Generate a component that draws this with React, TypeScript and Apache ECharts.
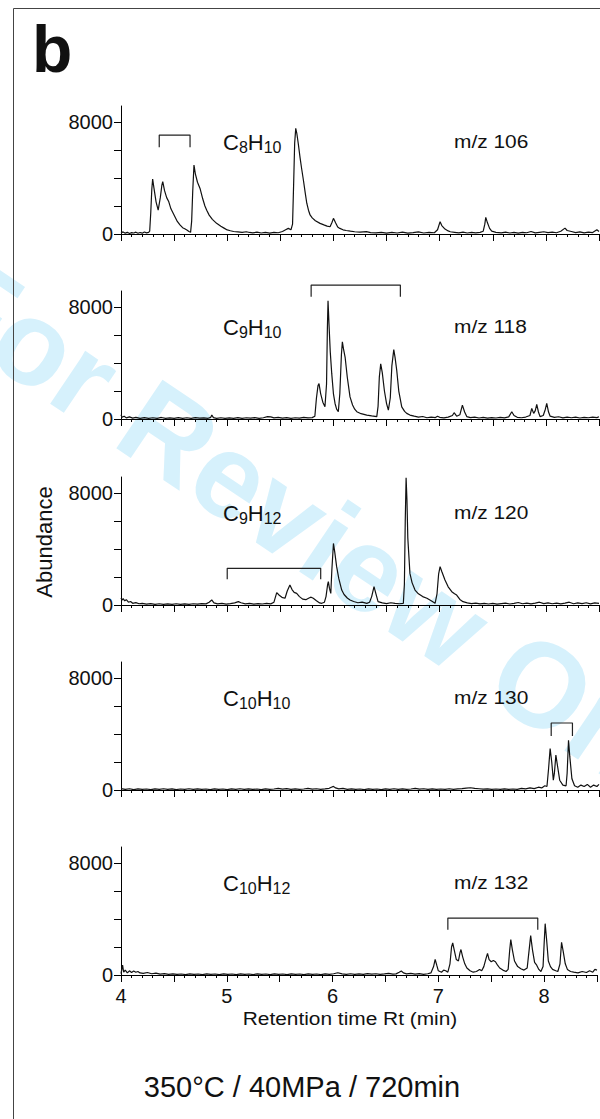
import React, { useEffect, useRef } from "react";
import * as echarts from "echarts";

const FONT = "'Liberation Sans', Arial, Helvetica, sans-serif";

// Retention time axis (min)
const xTickLabels = [4, 5, 6, 7, 8];
// Abundance axis
const yTicks = [0, 2000, 4000, 6000, 8000];
const yTickLabels = [0, 8000];

// Panel titles
const formulas = [
  ["C", "8", "H", "10"],
  ["C", "9", "H", "10"],
  ["C", "9", "H", "12"],
  ["C", "10", "H", "10"],
  ["C", "10", "H", "12"],
];
const mzLabels = ["m/z 106", "m/z 118", "m/z 120", "m/z 130", "m/z 132"];

// Chromatogram traces: [retention time (min), abundance]
const mz106 = [
  [4.0, 80], [4.02, 150], [4.04, 60], [4.06, 120], [4.08, 40], [4.1, 100], [4.12, 70], [4.14, 130], [4.16, 50],
  [4.18, 110], [4.2, 60], [4.22, 140], [4.24, 80], [4.26, 120], [4.27, 200], [4.28, 1500], [4.29, 3200],
  [4.298, 3930], [4.31, 3300], [4.33, 2300], [4.35, 1700], [4.37, 2600], [4.385, 3500], [4.393, 3740],
  [4.41, 3100], [4.43, 2600], [4.45, 2300], [4.47, 1800], [4.49, 1500], [4.51, 1200], [4.53, 900],
  [4.555, 650], [4.58, 450], [4.6, 380], [4.62, 290], [4.64, 180], [4.655, 120], [4.665, 900], [4.675, 3000],
  [4.687, 4930], [4.7, 4300], [4.72, 3700], [4.744, 3260], [4.77, 2500], [4.79, 2000], [4.807, 1700],
  [4.83, 1350], [4.86, 1050], [4.9, 760], [4.94, 550], [4.97, 420], [5.0, 290], [5.03, 230], [5.06, 180],
  [5.1, 150], [5.14, 120], [5.18, 160], [5.21, 110], [5.24, 80], [5.28, 130], [5.32, 70], [5.36, 110],
  [5.4, 60], [5.44, 120], [5.48, 90], [5.52, 180], [5.55, 300], [5.575, 400], [5.6, 300], [5.615, 700],
  [5.625, 3500], [5.635, 6500], [5.645, 7550], [5.655, 7200], [5.67, 6400], [5.685, 5500], [5.7, 4700],
  [5.717, 3860], [5.735, 2900], [5.749, 2200], [5.765, 1700], [5.78, 1360], [5.8, 1150], [5.83, 950],
  [5.874, 760], [5.91, 650], [5.94, 560], [5.968, 520], [5.985, 800], [6.0, 1120], [6.02, 800], [6.04, 500],
  [6.06, 400], [6.09, 300], [6.12, 250], [6.16, 200], [6.2, 160], [6.25, 130], [6.31, 170], [6.35, 100],
  [6.4, 80], [6.45, 120], [6.5, 60], [6.55, 110], [6.6, 70], [6.65, 130], [6.7, 60], [6.75, 100], [6.8, 150],
  [6.85, 70], [6.9, 120], [6.95, 90], [6.98, 300], [7.004, 880], [7.02, 600], [7.05, 350], [7.08, 220],
  [7.1, 160], [7.14, 120], [7.18, 80], [7.22, 130], [7.26, 70], [7.3, 110], [7.34, 80], [7.38, 120],
  [7.41, 200], [7.425, 700], [7.434, 1190], [7.45, 800], [7.47, 400], [7.49, 200], [7.53, 120], [7.58, 80],
  [7.62, 130], [7.66, 70], [7.7, 110], [7.74, 60], [7.78, 120], [7.82, 90], [7.86, 180], [7.9, 80],
  [7.94, 120], [7.98, 160], [8.02, 100], [8.06, 140], [8.1, 90], [8.14, 200], [8.18, 420], [8.2, 250],
  [8.24, 180], [8.28, 100], [8.32, 150], [8.36, 80], [8.4, 130], [8.44, 100], [8.48, 300], [8.5, 180],
];

const mz118 = [
  [4.0, 300], [4.01, 120], [4.03, 200], [4.05, 80], [4.08, 150], [4.11, 60], [4.14, 120], [4.18, 50],
  [4.22, 100], [4.26, 40], [4.3, 90], [4.34, 50], [4.38, 110], [4.42, 40], [4.46, 80], [4.5, 50], [4.54, 100],
  [4.58, 40], [4.62, 90], [4.66, 50], [4.7, 100], [4.74, 60], [4.78, 80], [4.82, 50], [4.845, 120],
  [4.855, 290], [4.87, 100], [4.9, 50], [4.94, 90], [4.98, 40], [5.02, 80], [5.06, 50], [5.1, 100],
  [5.14, 40], [5.18, 90], [5.22, 60], [5.26, 100], [5.3, 50], [5.34, 90], [5.38, 170], [5.41, 150],
  [5.44, 80], [5.48, 110], [5.52, 60], [5.56, 100], [5.6, 50], [5.64, 90], [5.68, 60], [5.72, 120],
  [5.76, 80], [5.8, 100], [5.825, 200], [5.84, 1500], [5.855, 2400], [5.864, 2530], [5.88, 1800],
  [5.9, 1200], [5.92, 870], [5.935, 2500], [5.943, 6500], [5.949, 8450], [5.958, 6800], [5.97, 4800],
  [5.984, 3240], [6.0, 1800], [6.015, 1110], [6.03, 700], [6.046, 520], [6.06, 1800], [6.075, 4600],
  [6.084, 5520], [6.095, 5000], [6.11, 4410], [6.13, 3000], [6.156, 1580], [6.18, 1000], [6.2, 700],
  [6.22, 520], [6.26, 380], [6.314, 283], [6.36, 220], [6.408, 170], [6.42, 900], [6.432, 3000],
  [6.445, 3940], [6.46, 3300], [6.48, 2000], [6.5, 1100], [6.517, 640], [6.535, 1500], [6.55, 3800],
  [6.568, 4960], [6.58, 4400], [6.596, 3470], [6.615, 2000], [6.643, 870], [6.67, 550], [6.69, 400],
  [6.72, 280], [6.76, 200], [6.8, 130], [6.84, 180], [6.88, 90], [6.92, 140], [6.96, 100], [6.98, 200],
  [7.0, 120], [7.04, 80], [7.08, 130], [7.12, 250], [7.136, 450], [7.16, 200], [7.19, 300], [7.214, 990],
  [7.235, 500], [7.255, 170], [7.29, 100], [7.33, 130], [7.37, 70], [7.41, 110], [7.45, 60], [7.49, 100],
  [7.53, 70], [7.57, 120], [7.61, 80], [7.65, 150], [7.679, 520], [7.7, 250], [7.73, 120], [7.77, 90],
  [7.81, 140], [7.85, 250], [7.867, 755], [7.885, 400], [7.9, 600], [7.914, 1040], [7.93, 500],
  [7.945, 170], [7.975, 250], [7.995, 700], [8.008, 1110], [8.025, 500], [8.04, 200], [8.08, 120],
  [8.12, 160], [8.16, 80], [8.2, 130], [8.24, 90], [8.28, 140], [8.32, 70], [8.36, 120], [8.4, 90],
  [8.44, 140], [8.48, 100], [8.5, 160],
];

const mz120 = [
  [4.0, 500], [4.01, 350], [4.02, 450], [4.035, 300], [4.05, 380], [4.07, 200], [4.09, 250], [4.11, 120],
  [4.14, 170], [4.17, 90], [4.2, 120], [4.24, 60], [4.28, 100], [4.32, 50], [4.36, 90], [4.4, 40],
  [4.44, 80], [4.48, 50], [4.52, 90], [4.56, 40], [4.6, 80], [4.64, 50], [4.68, 90], [4.72, 60], [4.76, 100],
  [4.8, 80], [4.83, 200], [4.854, 360], [4.875, 150], [4.91, 80], [4.95, 110], [4.99, 60], [5.03, 100],
  [5.07, 150], [5.105, 240], [5.13, 160], [5.17, 80], [5.21, 110], [5.25, 60], [5.29, 100], [5.33, 70],
  [5.37, 110], [5.41, 80], [5.44, 200], [5.466, 880], [5.49, 700], [5.515, 550], [5.544, 480], [5.565, 1000],
  [5.59, 1430], [5.61, 1100], [5.63, 900], [5.654, 830], [5.68, 600], [5.71, 420], [5.74, 380], [5.77, 500],
  [5.79, 560], [5.81, 480], [5.84, 300], [5.87, 150], [5.89, 120], [5.915, 200], [5.93, 600], [5.945, 1450],
  [5.952, 1670], [5.962, 1200], [5.975, 830], [5.985, 2500], [6.0, 4400], [6.012, 3800], [6.03, 2740],
  [6.05, 1900], [6.078, 1070], [6.1, 750], [6.13, 500], [6.156, 360], [6.19, 250], [6.23, 160], [6.27, 200],
  [6.314, 120], [6.34, 200], [6.36, 600], [6.382, 1310], [6.4, 800], [6.42, 240], [6.46, 150], [6.5, 100],
  [6.54, 160], [6.58, 110], [6.62, 90], [6.658, 120], [6.668, 1500], [6.676, 6000], [6.684, 9100],
  [6.692, 7500], [6.7, 4800], [6.72, 2260], [6.74, 1600], [6.768, 1070], [6.8, 800], [6.84, 600],
  [6.88, 480], [6.92, 300], [6.957, 120], [6.975, 800], [6.99, 2200], [7.004, 2740], [7.02, 2400],
  [7.05, 1790], [7.08, 1300], [7.114, 950], [7.14, 800], [7.16, 710], [7.19, 400], [7.22, 240], [7.26, 150],
  [7.3, 100], [7.34, 140], [7.38, 80], [7.42, 120], [7.46, 70], [7.5, 110], [7.54, 60], [7.58, 100],
  [7.62, 130], [7.66, 70], [7.7, 120], [7.74, 180], [7.78, 90], [7.82, 140], [7.86, 80], [7.9, 130],
  [7.94, 200], [7.98, 100], [8.02, 150], [8.06, 90], [8.1, 140], [8.14, 80], [8.18, 130], [8.22, 200],
  [8.26, 90], [8.3, 150], [8.34, 100], [8.38, 160], [8.42, 80], [8.46, 150], [8.5, 120],
];

const mz130 = [
  [4.0, 100], [4.04, 40], [4.08, 90], [4.12, 30], [4.16, 80], [4.2, 40], [4.24, 70], [4.28, 30], [4.32, 80],
  [4.36, 40], [4.4, 90], [4.44, 50], [4.48, 80], [4.52, 30], [4.56, 70], [4.6, 40], [4.64, 90], [4.68, 50],
  [4.72, 80], [4.76, 40], [4.8, 70], [4.84, 30], [4.88, 80], [4.92, 40], [4.96, 70], [5.0, 30], [5.04, 80],
  [5.08, 40], [5.12, 90], [5.16, 50], [5.2, 80], [5.24, 40], [5.28, 70], [5.32, 30], [5.36, 80], [5.4, 40],
  [5.44, 70], [5.48, 120], [5.52, 60], [5.56, 100], [5.6, 50], [5.64, 80], [5.68, 40], [5.72, 70],
  [5.76, 110], [5.8, 60], [5.84, 90], [5.88, 50], [5.92, 80], [5.96, 120], [5.98, 200], [6.0, 260],
  [6.02, 150], [6.05, 80], [6.09, 110], [6.13, 50], [6.17, 80], [6.21, 40], [6.25, 70], [6.29, 30],
  [6.33, 80], [6.37, 40], [6.41, 70], [6.45, 30], [6.49, 80], [6.53, 40], [6.57, 90], [6.61, 50], [6.65, 80],
  [6.69, 40], [6.73, 70], [6.77, 120], [6.81, 60], [6.85, 90], [6.89, 50], [6.93, 80], [6.97, 40], [7.01, 70],
  [7.05, 40], [7.09, 90], [7.13, 50], [7.17, 80], [7.21, 100], [7.25, 130], [7.29, 160], [7.33, 110],
  [7.37, 90], [7.41, 60], [7.45, 80], [7.49, 40], [7.53, 70], [7.57, 50], [7.61, 80], [7.65, 40], [7.69, 70],
  [7.73, 50], [7.77, 120], [7.81, 80], [7.85, 150], [7.89, 100], [7.93, 200], [7.96, 150], [7.99, 300],
  [8.01, 250], [8.025, 1500], [8.04, 2960], [8.055, 2000], [8.07, 700], [8.08, 1200], [8.094, 2490],
  [8.11, 1700], [8.13, 700], [8.16, 350], [8.19, 300], [8.2, 1200], [8.213, 3550], [8.225, 2400],
  [8.245, 800], [8.27, 300], [8.3, 200], [8.33, 350], [8.36, 250], [8.39, 400], [8.42, 200], [8.45, 350],
  [8.48, 250], [8.5, 400],
];

const mz132 = [
  [4.0, 100], [4.015, 700], [4.025, 200], [4.04, 350], [4.06, 150], [4.08, 300], [4.1, 180], [4.12, 280],
  [4.14, 200], [4.16, 250], [4.18, 150], [4.21, 120], [4.25, 180], [4.29, 90], [4.33, 130], [4.37, 60],
  [4.41, 100], [4.45, 50], [4.49, 80], [4.53, 40], [4.57, 70], [4.61, 30], [4.65, 80], [4.69, 40],
  [4.73, 70], [4.77, 30], [4.81, 80], [4.85, 40], [4.89, 70], [4.93, 30], [4.97, 80], [5.01, 40], [5.05, 70],
  [5.09, 30], [5.13, 80], [5.17, 40], [5.21, 70], [5.25, 30], [5.29, 80], [5.33, 40], [5.37, 70], [5.41, 30],
  [5.45, 80], [5.49, 40], [5.53, 70], [5.57, 30], [5.61, 80], [5.65, 40], [5.69, 70], [5.73, 30], [5.77, 80],
  [5.81, 40], [5.85, 70], [5.89, 30], [5.93, 80], [5.97, 40], [6.01, 90], [6.05, 160], [6.09, 80], [6.13, 50],
  [6.17, 90], [6.21, 40], [6.25, 80], [6.29, 50], [6.33, 100], [6.37, 60], [6.41, 90], [6.45, 50], [6.49, 80],
  [6.53, 120], [6.57, 60], [6.6, 80], [6.63, 200], [6.65, 290], [6.67, 150], [6.7, 80], [6.74, 110],
  [6.78, 60], [6.82, 100], [6.86, 50], [6.9, 90], [6.93, 150], [6.955, 600], [6.97, 1110], [6.985, 700],
  [7.0, 300], [7.03, 200], [7.05, 350], [7.07, 300], [7.09, 200], [7.11, 800], [7.125, 2000], [7.136, 2300],
  [7.15, 1800], [7.17, 1100], [7.19, 1000], [7.205, 1600], [7.214, 1820], [7.23, 1300], [7.25, 800],
  [7.27, 500], [7.3, 300], [7.33, 200], [7.36, 250], [7.39, 400], [7.41, 300], [7.43, 600], [7.455, 1300],
  [7.465, 1540], [7.48, 1100], [7.5, 950], [7.52, 1040], [7.54, 950], [7.56, 700], [7.58, 500], [7.61, 350],
  [7.64, 250], [7.66, 400], [7.675, 1800], [7.685, 2530], [7.7, 1800], [7.72, 1000], [7.75, 600],
  [7.78, 450], [7.81, 350], [7.84, 500], [7.86, 1900], [7.873, 2820], [7.89, 1800], [7.91, 900], [7.93, 700],
  [7.95, 400], [7.97, 250], [7.99, 600], [8.0, 2200], [8.01, 3670], [8.025, 2400], [8.04, 1000], [8.06, 600],
  [8.08, 400], [8.11, 300], [8.13, 250], [8.15, 800], [8.165, 2340], [8.18, 1700], [8.2, 800], [8.22, 400],
  [8.25, 250], [8.28, 200], [8.32, 150], [8.36, 250], [8.4, 180], [8.43, 300], [8.46, 200], [8.48, 400],
  [8.5, 350],
];

// Brackets marking peak groups: [time, abundance]
const bracket106 = [[4.36, 6210], [4.36, 7070], [4.65, 7070], [4.65, 6210]];
const bracket118 = [[5.79, 8740], [5.79, 9570], [6.63, 9570], [6.63, 8740]];
const bracket120 = [[5.0, 1840], [5.0, 2620], [5.88, 2620], [5.88, 1840]];
const bracket130 = [[8.05, 3860], [8.05, 4790], [8.25, 4790], [8.25, 3860]];
const bracket132 = [[7.09, 3240], [7.09, 4070], [7.94, 4070], [7.94, 3240]];

const traces = [mz106, mz118, mz120, mz130, mz132];
const brackets = [bracket106, bracket118, bracket120, bracket130, bracket132];

const X_MIN = 4;
const X_MAX = 8.5;
const Y_MAX = 9150;

const PANEL_TOPS = [106, 291, 477, 662, 847];
const PANEL_H = 128;
const GRID_LEFT = 121;
const GRID_RIGHT = 1;

const MAIN_FS = 22;
const SUB_FS = 16;

function measure(text: string, fontSize: number): number {
  const c = document.createElement("canvas");
  const ctx = c.getContext("2d");
  if (!ctx) return text.length * fontSize * 0.56;
  ctx.font = `${fontSize}px ${FONT}`;
  return ctx.measureText(text).width;
}

export default function App() {
  const ref = useRef<HTMLDivElement>(null);

  useEffect(() => {
    if (!ref.current) return;
    const chart = echarts.init(ref.current, undefined, { renderer: "svg" });
    const n = traces.length;

    const grid = PANEL_TOPS.map((t) => ({
      left: GRID_LEFT,
      right: GRID_RIGHT,
      top: t,
      height: PANEL_H,
      containLabel: false,
    }));

    const xAxis = PANEL_TOPS.map((_, i) => ({
      type: "value",
      gridIndex: i,
      min: X_MIN,
      max: X_MAX,
      interval: 0.5,
      axisLine: { show: true, onZero: false, lineStyle: { color: "#000", width: 1 } },
      axisTick: { show: true, length: 7, inside: false, lineStyle: { color: "#000", width: 1 } },
      minorTick: { show: true, splitNumber: 5, length: 3, lineStyle: { color: "#000", width: 1 } },
      splitLine: { show: false },
      minorSplitLine: { show: false },
      axisLabel: {
        show: i === n - 1,
        margin: 11,
        fontSize: 20,
        fontFamily: FONT,
        color: "#111",
        formatter: (v: number) => (xTickLabels.includes(v) ? String(v) : ""),
      },
    }));

    const yAxis = PANEL_TOPS.map((_, i) => ({
      type: "value",
      gridIndex: i,
      min: 0,
      max: Y_MAX,
      axisLine: { show: true, onZero: false, lineStyle: { color: "#000", width: 1 } },
      axisTick: {
        show: true,
        length: 7,
        inside: false,
        customValues: yTicks,
        lineStyle: { color: "#000", width: 1 },
      },
      splitLine: { show: false },
      axisLabel: {
        show: true,
        customValues: yTickLabels,
        margin: 8,
        fontSize: 20,
        fontFamily: FONT,
        color: "#111",
        formatter: (v: number) => String(Math.round(v)),
      },
    }));

    const series: any[] = [];
    traces.forEach((d, i) => {
      series.push({
        type: "line",
        xAxisIndex: i,
        yAxisIndex: i,
        data: d,
        showSymbol: false,
        symbol: "none",
        lineStyle: { color: "#111", width: 1.2 },
        z: 3,
      });
    });
    brackets.forEach((d, i) => {
      series.push({
        type: "line",
        xAxisIndex: i,
        yAxisIndex: i,
        data: d,
        showSymbol: false,
        symbol: "none",
        clip: false,
        lineStyle: { color: "#222", width: 1.2 },
        z: 3,
      });
    });

    const graphics: any[] = [
      {
        type: "text",
        x: 335,
        y: 545,
        rotation: -0.593,
        z: 0,
        silent: true,
        style: {
          text: "For Review Only",
          fontSize: 120,
          fontWeight: "bold",
          fontFamily: FONT,
          fill: "#d6f1fc",
          align: "center",
          verticalAlign: "middle",
        },
      },
      {
        type: "rect",
        z: 1,
        shape: { x: 13.5, y: 8.5, width: 700, height: 1200 },
        style: { fill: "none", stroke: "#444", lineWidth: 1 },
      },
      {
        type: "text",
        x: 32,
        y: 49,
        z: 5,
        style: {
          text: "b",
          fontSize: 66,
          fontWeight: "bold",
          fontFamily: FONT,
          fill: "#111",
          align: "left",
          verticalAlign: "middle",
        },
      },
      {
        type: "text",
        x: 44,
        y: 542,
        rotation: Math.PI / 2,
        z: 5,
        style: {
          text: "Abundance",
          fontSize: 22,
          fontFamily: FONT,
          fill: "#111",
          align: "center",
          verticalAlign: "middle",
        },
      },
      {
        type: "text",
        x: 350,
        y: 1019,
        scaleX: 1.16,
        z: 5,
        style: {
          text: "Retention time Rt (min)",
          fontSize: 18,
          fontFamily: FONT,
          fill: "#111",
          align: "center",
          verticalAlign: "middle",
        },
      },
      {
        type: "text",
        x: 302,
        y: 1087,
        z: 5,
        style: {
          text: "350°C / 40MPa / 720min",
          fontSize: 29,
          fontFamily: FONT,
          fill: "#111",
          align: "center",
          verticalAlign: "middle",
        },
      },
    ];

    PANEL_TOPS.forEach((t, i) => {
      const f = formulas[i];
      const yMain = t + 36.5;
      const ySub = yMain + 4.5;
      let x = 223;
      f.forEach((part, k) => {
        const isSub = k % 2 === 1;
        const fs = isSub ? SUB_FS : MAIN_FS;
        graphics.push({
          type: "text",
          x,
          y: isSub ? ySub : yMain,
          z: 5,
          style: {
            text: part,
            fontSize: fs,
            fontFamily: FONT,
            fill: "#111",
            align: "left",
            verticalAlign: "middle",
          },
        });
        x += measure(part, fs);
      });
      graphics.push({
        type: "text",
        x: 454,
        y: t + 35.5,
        scaleX: 1.1,
        z: 5,
        style: {
          text: mzLabels[i],
          fontSize: 19,
          fontFamily: FONT,
          fill: "#111",
          align: "left",
          verticalAlign: "middle",
        },
      });
    });

    chart.setOption({
      animation: false,
      backgroundColor: "#fff",
      grid,
      xAxis,
      yAxis,
      series,
      graphic: graphics,
    });

    return () => {
      chart.dispose();
    };
  }, []);

  return (
    <div
      ref={ref}
      style={{ position: "fixed", left: 0, top: 0, width: 600, height: 1119, background: "#fff" }}
    />
  );
}
